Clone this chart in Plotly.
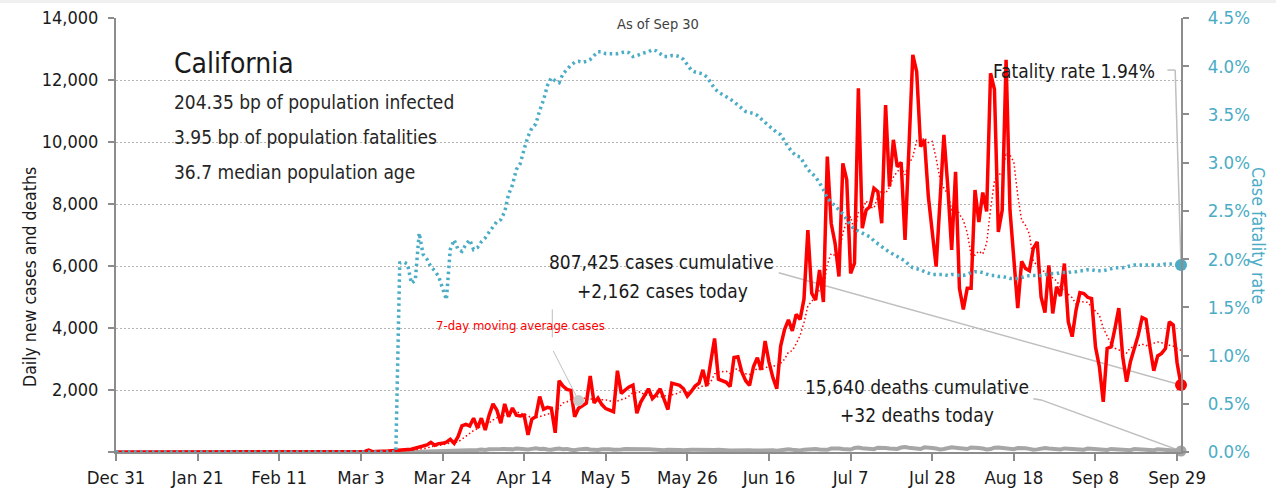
import pandas as pd
import plotly.graph_objects as go

# ---------------- data ----------------
first_day = "2019-12-31"
last_day = "2020-09-30"

x_tick_dates = ["2019-12-31", "2020-01-21", "2020-02-11", "2020-03-03", "2020-03-24",
                "2020-04-14", "2020-05-05", "2020-05-26", "2020-06-16", "2020-07-07",
                "2020-07-28", "2020-08-18", "2020-09-08", "2020-09-29"]
x_tick_labels = ["Dec 31", "Jan 21", "Feb 11", "Mar 3", "Mar 24", "Apr 14", "May 5",
                 "May 26", "Jun 16", "Jul 7", "Jul 28", "Aug 18", "Sep 8", "Sep 29"]

y_tick_values = [0, 2000, 4000, 6000, 8000, 10000, 12000, 14000]
y_tick_labels = ["", "2,000", "4,000", "6,000", "8,000", "10,000", "12,000", "14,000"]

# daily new cases: Dec 31 - Feb 29 flat at zero, then Mar 1 - Sep 30
cases_before_march = [0] * 61
cases_from_march = [
    5, 10, 15, 20, 60, 10, 20, 15, 25, 30,
    40, 45, 60, 50, 80, 90, 120, 150, 180, 230,
    310, 220, 270, 280, 320, 410, 280, 495, 840, 890,
    840, 1090, 770, 1090, 710, 1190, 1550, 1350, 930, 1550,
    1140, 1420, 1190, 1160, 1190, 550, 1060, 1140, 1790, 1380,
    1440, 1410, 620, 2300, 2130, 2020, 1990, 1140, 1410, 1500,
    1570, 2450, 1580, 1740, 1530, 1400, 1350, 1300, 2620, 1890,
    2000, 2100, 2160, 1250, 1610, 1800, 2040, 1720, 1850, 2040,
    1700, 1370, 2220, 2180, 2150, 2040, 1800, 1950, 2130, 2220,
    2650, 2130, 2900, 3660, 2350, 2290, 2250, 2110, 3050, 3070,
    2580, 2300, 2150, 2750, 3040, 2650, 3580, 2900, 2400, 2040,
    3420, 3950, 4260, 3910, 4440, 4280, 4930, 7160, 5120, 4900,
    5870, 4840, 9530, 7380, 6730, 5660, 9310, 8780, 5760, 6090,
    11730, 7220, 7810, 7920, 8510, 8400, 7380, 11190, 8560, 10070,
    9200, 9340, 6840, 9800, 12810, 12270, 9850, 10070, 8240, 7100,
    5980, 8100, 10230, 8560, 6520, 9040, 5280, 4600, 5280, 5280,
    8450, 7420, 8370, 7760, 12220, 11700, 7100, 7800, 12650, 7800,
    6200, 4640, 6150, 5920, 5850, 6570, 6780, 5000, 4500, 6020,
    4470, 5330, 5030, 6080, 4200, 3720, 4580, 5140, 5110, 4990,
    4950, 3390, 2750, 1620, 3340, 3390, 3980, 4640, 3080, 2270,
    2920, 3340, 3770, 4340, 4280, 3390, 2620, 3100, 3180, 3340,
    4200, 4100, 2870, 2162,
]

# 7-day moving average of cases, Mar 7 - Sep 30
ma_first_day = "2020-03-07"
ma7_cases = [
    20, 21, 24, 26,
    29, 26, 34, 38, 47, 56, 69, 85, 104, 129,
    166, 186, 211, 234, 259, 291, 299, 325, 414, 502,
    582, 692, 744, 859, 890, 940, 1034, 1107, 1084, 1196,
    1203, 1304, 1304, 1249, 1226, 1171, 1101, 1101, 1154, 1181,
    1221, 1253, 1263, 1440, 1581, 1614, 1701, 1659, 1659, 1784,
    1680, 1726, 1663, 1627, 1683, 1681, 1660, 1621, 1646, 1690,
    1727, 1809, 1917, 1903, 1947, 1830, 1851, 1811, 1776, 1759,
    1823, 1789, 1849, 1869, 1930, 1957, 1923, 1959, 2067, 2067,
    2134, 2131, 2254, 2520, 2577, 2600, 2604, 2527, 2659, 2683,
    2529, 2521, 2501, 2573, 2706, 2649, 2721, 2767, 2781, 2766,
    2861, 2991, 3221, 3269, 3489, 3757, 4170, 4704, 4871, 4963,
    5243, 5300, 6050, 6400, 6339, 6416, 7046, 7461, 7593, 7101,
    7723, 7793, 8100, 7901, 7863, 8240, 8424, 8347, 8539, 8861,
    9044, 9163, 8940, 9286, 9517, 10047, 10016, 10140, 9983, 10020,
    9474, 8801, 8510, 8326, 7819, 7933, 7673, 7476, 7073, 6366,
    6350, 6479, 6383, 6737, 7826, 8743, 9003, 8910, 9657, 9576,
    9353, 8270, 7477, 7309, 7030, 6161, 6016, 5844, 5824, 5806,
    5599, 5524, 5304, 5204, 5090, 4979, 4773, 4869, 4837, 4831,
    4670, 4554, 4416, 3993, 3736, 3490, 3346, 3301, 3257, 3189,
    3374, 3374, 3429, 3480, 3429, 3473, 3523, 3549, 3526, 3464,
    3444, 3419, 3344, 3279,
]
ma_marker_date = "2020-04-28"

# daily new deaths, Mar 4 - Sep 30
deaths_first_day = "2020-03-04"
deaths_daily = [
    1, 0, 1, 1, 2, 1, 2, 3, 4,
    5, 6, 8, 9, 12, 10, 14, 18, 20, 22, 25, 30, 35, 40,
    45, 50, 55, 60, 58, 70, 68, 80, 65, 90, 85, 75, 95, 100,
    90, 85, 110, 95, 70, 80, 100, 120, 95, 105,
    80, 70, 95, 110, 90, 100, 75, 60, 85, 95,
    105, 80, 70, 65, 90, 100, 85, 70, 60, 80,
    95, 90, 75, 65, 60, 85, 90, 80, 70, 55,
    60, 75, 80, 70, 65, 55, 50, 70, 75, 70,
    60, 50, 45, 65, 70, 80, 60, 50, 55, 65,
    70, 75, 60, 45, 50, 70, 65, 60, 55, 40,
    60, 80, 85, 70, 55, 50, 75, 90, 100, 95,
    80, 60, 70, 110, 120, 115, 95, 75, 80, 130,
    145, 120, 100, 85, 90, 140, 150, 130, 110, 95,
    100, 145, 160, 140, 120, 90, 95, 150, 155, 130,
    110, 85, 100, 140, 150, 135, 115, 90, 95, 145,
    150, 130, 110, 85, 95, 140, 145, 130, 100, 80,
    90, 130, 140, 120, 100, 75, 85, 120, 130, 110,
    95, 70, 80, 115, 120, 100, 90, 70, 75, 110,
    105, 95, 80, 60, 65, 100, 95, 85, 70, 55,
    60, 95, 90, 80, 65, 50, 55, 85, 80, 70,
    60, 45, 50, 32,
]

# case fatality rate (%): zero until Mar 12, then Mar 13 - Sep 30
cfr_before_first_death = [0] * 73
cfr_pct = [
    1.96, 1.97, 1.95, 1.75, 1.78, 2.27, 2.05, 2.00,
    1.92, 1.88, 1.82, 1.70, 1.58, 2.10, 2.20, 2.10, 2.08, 2.15,
    2.20, 2.10, 2.12, 2.18, 2.22, 2.28, 2.34, 2.39, 2.41, 2.49,
    2.67, 2.77, 2.93, 2.99, 3.14, 3.27, 3.36, 3.40, 3.54, 3.65,
    3.80, 3.88, 3.85, 3.83, 3.92, 3.97, 4.01, 4.04, 4.05, 4.04,
    4.05, 4.07, 4.11, 4.15, 4.15, 4.13, 4.13, 4.13, 4.13, 4.14,
    4.15, 4.14, 4.10, 4.11, 4.13, 4.14, 4.15, 4.17, 4.16, 4.13,
    4.10, 4.10, 4.11, 4.11, 4.10, 4.07, 4.02, 3.96, 3.94, 3.93,
    3.92, 3.89, 3.83, 3.77, 3.73, 3.71, 3.69, 3.66, 3.63, 3.60,
    3.56, 3.53, 3.52, 3.51, 3.49, 3.45, 3.42, 3.38, 3.35, 3.31,
    3.29, 3.22, 3.16, 3.11, 3.07, 3.06, 2.99, 2.93, 2.89, 2.85,
    2.79, 2.72, 2.63, 2.59, 2.56, 2.52, 2.47, 2.41, 2.35, 2.31,
    2.29, 2.27, 2.25, 2.23, 2.19, 2.16, 2.13, 2.09, 2.07, 2.05,
    2.03, 2.00, 1.98, 1.94, 1.91, 1.90, 1.89, 1.87, 1.85, 1.84,
    1.84, 1.84, 1.84, 1.83, 1.84, 1.84, 1.83, 1.83, 1.85, 1.86,
    1.87, 1.87, 1.86, 1.84, 1.83, 1.83, 1.82, 1.82, 1.81, 1.80,
    1.80, 1.80, 1.81, 1.82, 1.83, 1.83, 1.83, 1.83, 1.84, 1.84,
    1.85, 1.85, 1.86, 1.86, 1.86, 1.87, 1.87, 1.88, 1.88, 1.89,
    1.89, 1.88, 1.88, 1.88, 1.89, 1.90, 1.91, 1.91, 1.91, 1.92,
    1.93, 1.94, 1.94, 1.94, 1.94, 1.94, 1.94, 1.94, 1.94, 1.95,
    1.95, 1.95, 1.94, 1.94,
]

title_text = "California"
stat_lines = ["204.35 bp of population infected",
              "3.95 bp of population fatalities",
              "36.7 median population age"]
as_of_text = "As of Sep 30"
fatality_text = "Fatality rate 1.94%"
cases_text = ["807,425 cases cumulative", "+2,162 cases today"]
deaths_text = ["15,640 deaths cumulative", "+32 deaths today"]
ma_label = "7-day moving average cases"
left_axis_title = "Daily new cases and deaths"
right_axis_title = "Case fatality rate"

# ---------------- styling ----------------
FONT = "Noto Sans Condensed, DejaVu Sans Condensed, Liberation Sans, Arial, sans-serif"
RED = "#ff0000"
TEAL = "#4bacc6"
DGRAY = "#a6a6a6"
LEADER = "#bfbfbf"
AXIS = "#8c8c8c"
TXT = "#1a1a1a"

cases_all = cases_before_march + cases_from_march
cases_x = pd.date_range(first_day, periods=len(cases_all), freq="D")
ma_x = pd.date_range(ma_first_day, periods=len(ma7_cases), freq="D")
deaths_x = pd.date_range(deaths_first_day, periods=len(deaths_daily), freq="D")
cfr_all = cfr_before_first_death + cfr_pct
cfr_x = pd.date_range(first_day, periods=len(cfr_all), freq="D")

ma_marker_idx = list(ma_x).index(pd.Timestamp(ma_marker_date))

fig = go.Figure()

fig.add_trace(go.Scatter(x=cfr_x, y=cfr_all, yaxis="y2", mode="lines",
                         line=dict(color=TEAL, width=3.5, dash="2.5px,3.5px"),
                         hoverinfo="skip", showlegend=False))
fig.add_trace(go.Scatter(x=deaths_x, y=deaths_daily, mode="lines",
                         line=dict(color=DGRAY, width=4), hoverinfo="skip", showlegend=False))
fig.add_trace(go.Scatter(x=ma_x, y=ma7_cases, mode="lines",
                         line=dict(color=RED, width=1.5, dash="1.5px,2.5px"),
                         hoverinfo="skip", showlegend=False))
fig.add_trace(go.Scatter(x=cases_x, y=cases_all, mode="lines",
                         line=dict(color=RED, width=3.5), hoverinfo="skip", showlegend=False))

# end-point markers
fig.add_trace(go.Scatter(x=[ma_x[ma_marker_idx]], y=[ma7_cases[ma_marker_idx]], mode="markers",
                         marker=dict(color="#c8c8c8", size=11), cliponaxis=False,
                         hoverinfo="skip", showlegend=False))
fig.add_trace(go.Scatter(x=[deaths_x[-1]], y=[deaths_daily[-1]], mode="markers",
                         marker=dict(color=DGRAY, size=11), cliponaxis=False,
                         hoverinfo="skip", showlegend=False))
fig.add_trace(go.Scatter(x=[cases_x[-1]], y=[cases_all[-1]], mode="markers",
                         marker=dict(color=RED, size=12), cliponaxis=False,
                         hoverinfo="skip", showlegend=False))
fig.add_trace(go.Scatter(x=[cfr_x[-1]], y=[cfr_all[-1]], yaxis="y2", mode="markers",
                         marker=dict(color=TEAL, size=12), cliponaxis=False,
                         hoverinfo="skip", showlegend=False))

# leader lines
shapes = [
    dict(type="rect", xref="paper", yref="paper", x0=-0.2, x1=1.2, y0=1.0346, y1=1.05,
         fillcolor="#f0f0f0", line=dict(width=0), layer="below"),
    dict(type="line", xref="x", yref="y2", x0="2020-09-26 12:00", x1="2020-09-28 12:00",
         y0=3.96, y1=3.96, line=dict(color=LEADER, width=1.5), layer="below"),
    dict(type="line", xref="x", yref="y2", x0="2020-09-28 12:00", x1=cfr_x[-1],
         y0=3.96, y1=cfr_all[-1], line=dict(color=LEADER, width=1.5), layer="below"),
    dict(type="line", xref="x", yref="y", x0="2020-06-18 12:00", x1=cases_x[-1],
         y0=5780, y1=cases_all[-1], line=dict(color=LEADER, width=1.5), layer="below"),
    dict(type="line", xref="x", yref="y", x0="2020-08-23", x1="2020-08-25",
         y0=1720, y1=1680, line=dict(color=LEADER, width=1.5), layer="below"),
    dict(type="line", xref="x", yref="y", x0="2020-08-25", x1=deaths_x[-1],
         y0=1680, y1=deaths_daily[-1], line=dict(color=LEADER, width=1.5), layer="below"),
    dict(type="line", xref="x", yref="y", x0="2020-04-21 06:00", x1="2020-04-21 06:00",
         y0=4600, y1=3700, line=dict(color=LEADER, width=1), layer="below"),
    dict(type="line", xref="x", yref="y", x0="2020-04-21 12:00", x1=ma_x[ma_marker_idx],
         y0=3260, y1=ma7_cases[ma_marker_idx], line=dict(color=LEADER, width=1), layer="below"),
]


def px_x(px):
    return (px - 116) / 1065.0


def px_y(py):
    return (452 - py) / 434.0


annotations = [
    dict(text=title_text, x=px_x(172), y=px_y(63), xanchor="left", yanchor="middle",
         font=dict(family=FONT, size=28, color=TXT)),
    dict(text=left_axis_title, x=px_x(30), y=px_y(277), xanchor="center", yanchor="middle",
         textangle=-90, font=dict(family=FONT, size=17.5, color=TXT)),
    dict(text=right_axis_title, x=px_x(1258), y=0.5, xanchor="center", yanchor="middle",
         textangle=90, font=dict(family=FONT, size=17.7, color=TEAL)),
    dict(text=as_of_text, x=px_x(658), y=px_y(24), xanchor="center", yanchor="middle",
         font=dict(family=FONT, size=14.5, color="#404040")),
    dict(text=fatality_text, x=px_x(1157), y=px_y(71), xanchor="right", yanchor="middle",
         font=dict(family=FONT, size=19, color=TXT)),
    dict(text=cases_text[0], x=px_x(661), y=px_y(262), xanchor="center", yanchor="middle",
         font=dict(family=FONT, size=19, color=TXT)),
    dict(text=cases_text[1], x=px_x(662), y=px_y(291), xanchor="center", yanchor="middle",
         font=dict(family=FONT, size=19, color=TXT)),
    dict(text=deaths_text[0], x=px_x(917), y=px_y(387), xanchor="center", yanchor="middle",
         font=dict(family=FONT, size=19, color=TXT)),
    dict(text=deaths_text[1], x=px_x(917), y=px_y(415), xanchor="center", yanchor="middle",
         font=dict(family=FONT, size=19, color=TXT)),
    dict(text=ma_label, x=px_x(520), y=px_y(325), xanchor="center", yanchor="middle",
         font=dict(family=FONT, size=13, color=RED)),
]
for i, line in enumerate(stat_lines):
    annotations.append(dict(text=line, x=px_x(172), y=px_y(102 + 35 * i), xanchor="left",
                            yanchor="middle", font=dict(family=FONT, size=19, color="#262626")))
for a in annotations:
    a.update(xref="paper", yref="paper", showarrow=False)

fig.update_layout(
    width=1276, height=493,
    margin=dict(l=116, r=95, t=18, b=41, autoexpand=False),
    paper_bgcolor="white", plot_bgcolor="white",
    font=dict(family=FONT, size=18, color=TXT),
    showlegend=False,
    shapes=shapes,
    annotations=annotations,
    xaxis=dict(type="date", range=[first_day, last_day], tickmode="array",
               tickvals=x_tick_dates, ticktext=x_tick_labels, automargin=False,
               showline=True, linecolor=AXIS, linewidth=2, ticks="outside", ticklen=7,
               tickwidth=1.5, tickcolor=AXIS, showgrid=False, zeroline=False,
               ticklabelstandoff=1,
               tickfont=dict(family=FONT, size=18.5, color=TXT)),
    yaxis=dict(range=[0, 14000], tickmode="array", tickvals=y_tick_values, ticktext=y_tick_labels,
               automargin=False,
               showline=True, linecolor=AXIS, linewidth=2, ticks="outside", ticklen=6,
               tickwidth=1.5, tickcolor=AXIS, showgrid=True, gridcolor="#b5b5b5",
               griddash="1.5px,2.5px", gridwidth=1, zeroline=False, ticklabelstandoff=6,
               tickfont=dict(family=FONT, size=18, color=TXT)),
    yaxis2=dict(overlaying="y", side="right", range=[0, 4.5], tickmode="linear", tick0=0,
                dtick=0.5, tickformat=".1f", ticksuffix="%", automargin=False,
                showline=True, linecolor=AXIS, linewidth=2, ticks="outside", ticklen=6,
                tickwidth=1.5, tickcolor=AXIS, showgrid=False, zeroline=False,
                ticklabelstandoff=15,
                tickfont=dict(family=FONT, size=18.5, color=TEAL)),
)

fig.write_html("out.html", config={"displayModeBar": False},
               post_script="document.body.style.margin='0';")
